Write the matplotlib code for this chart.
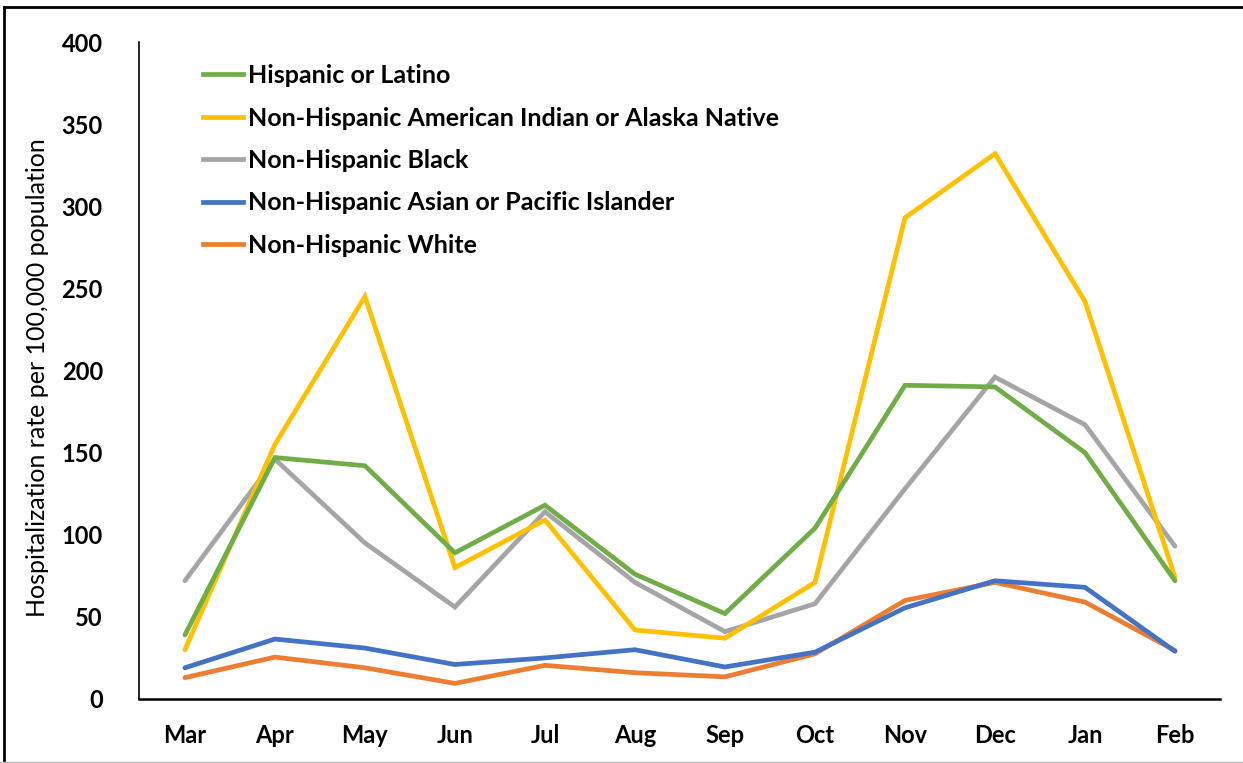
import matplotlib.pyplot as plt
from matplotlib.lines import Line2D
import numpy as np

plt.rcParams['font.family'] = ['Lato', 'DejaVu Sans']

months = ["Mar", "Apr", "May", "Jun", "Jul", "Aug", "Sep", "Oct", "Nov", "Dec", "Jan", "Feb"]

hispanic = [39, 147, 142, 89, 118, 76, 52, 104, 191, 190, 150, 72]
aian = [30, 155, 245, 80, 109, 42, 37, 71, 293, 332, 242, 74]
black = [72, 146, 95, 56, 114, 71, 41, 58, 128, 196, 167, 93]
asian = [19, 36.5, 31, 21, 25, 30, 19.5, 28.5, 55.5, 72, 68, 29]
white = [13, 25.5, 19, 9.5, 20.5, 16, 13.5, 27.5, 60, 71, 59, 29.5]

series = [
    ("Hispanic or Latino", hispanic, "#70AD47"),
    ("Non-Hispanic American Indian or Alaska Native", aian, "#FFC000"),
    ("Non-Hispanic Black", black, "#A5A5A5"),
    ("Non-Hispanic Asian or Pacific Islander", asian, "#4472C4"),
    ("Non-Hispanic White", white, "#ED7D31"),
]

fig = plt.figure(figsize=(12.43, 7.63), dpi=100)
ax = fig.add_axes([139 / 1243, 1 - 699 / 763, (1220 - 139) / 1243, (699 - 42) / 763])

x = np.arange(len(months))
# draw back to front like the original
for name, vals, col in reversed(series):
    ax.plot(x, vals, color=col, lw=3.4, solid_capstyle='round', solid_joinstyle='miter')

ax.set_xlim(-0.51, 11.5)
ax.set_ylim(0, 400)
ax.set_yticks(range(0, 401, 50))
ax.set_xticks(x)
ax.set_xticklabels(months)
ax.tick_params(length=0, labelsize=17, pad=18)
ax.tick_params(axis='y', pad=26)
for lab in ax.get_xticklabels() + ax.get_yticklabels():
    lab.set_fontweight('bold')

for s in ["top", "right"]:
    ax.spines[s].set_visible(False)
ax.spines["left"].set_linewidth(1.2)
ax.spines["bottom"].set_linewidth(1.8)

fig.text(38 / 1243, 1 - 378 / 763, "Hospitalization rate per 100,000 population",
         rotation=90, ha="center", va="center", fontsize=18)

handles = [Line2D([0], [0], color=c, lw=3.4) for _, _, c in series]
labels = [n for n, _, _ in series]
leg = ax.legend(handles, labels, loc="upper left", bbox_to_anchor=(203 / 1243, 1 - 64 / 763),
                bbox_transform=fig.transFigure, frameon=False, handlelength=1.6,
                handletextpad=0.2, labelspacing=0.78, borderaxespad=0, borderpad=0,
                prop={'size': 18, 'weight': 'bold'})

# outer frame
fig.add_artist(Line2D([4 / 1243, 4 / 1243], [0, 1 - 7 / 763], color="black", lw=2, transform=fig.transFigure))
fig.add_artist(Line2D([4 / 1243, 1], [1 - 7 / 763, 1 - 7 / 763], color="black", lw=2, transform=fig.transFigure))
fig.add_artist(Line2D([0, 1], [1 / 763, 1 / 763], color="#BBBBBB", lw=1, transform=fig.transFigure))

fig.savefig("out.png", dpi=100)
